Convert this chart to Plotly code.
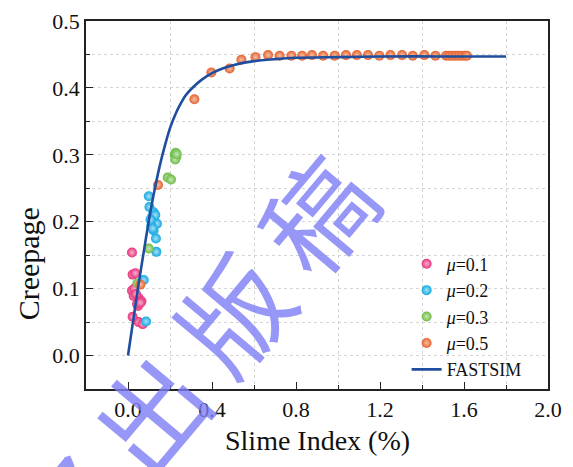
import plotly.graph_objects as go

# ---- data ----
mu01_x = [0.019, 0.022, 0.035, 0.019, 0.030, 0.027, 0.051, 0.064, 0.048, 0.043, 0.059, 0.022, 0.051, 0.070, 0.038]
mu01_y = [0.154, 0.121, 0.123, 0.097, 0.100, 0.089, 0.086, 0.081, 0.074, 0.077, 0.079, 0.058, 0.050, 0.047, 0.092]

mu02_x = [0.099, 0.102, 0.122, 0.114, 0.127, 0.138, 0.111, 0.122, 0.118, 0.133, 0.130, 0.135, 0.075, 0.086, 0.107]
mu02_y = [0.238, 0.222, 0.214, 0.207, 0.200, 0.197, 0.194, 0.187, 0.190, 0.175, 0.210, 0.155, 0.113, 0.051, 0.203]

mu03_x = [0.222, 0.227, 0.230, 0.225, 0.232, 0.189, 0.205, 0.099, 0.045]
mu03_y = [0.300, 0.303, 0.297, 0.293, 0.301, 0.266, 0.263, 0.160, 0.108]

mu05_x = [0.059, 0.143, 0.316, 0.397, 0.484, 0.540, 0.607, 0.667, 0.722, 0.778, 0.829, 0.876,
          0.929, 0.984, 1.038, 1.090, 1.143, 1.197, 1.250, 1.305, 1.356, 1.411, 1.464,
          1.515, 1.530, 1.545, 1.560, 1.575, 1.590, 1.605, 1.614]
mu05_y = [0.106, 0.255, 0.383, 0.423, 0.429, 0.442, 0.446, 0.449, 0.448, 0.448, 0.448, 0.449,
          0.448, 0.448, 0.449, 0.449, 0.449, 0.448, 0.449, 0.449, 0.448, 0.449, 0.448,
          0.448, 0.448, 0.448, 0.448, 0.448, 0.448, 0.448, 0.448]

fast_x = [0.0, 0.025, 0.05, 0.075, 0.1, 0.125, 0.15, 0.175, 0.2, 0.225, 0.25, 0.275, 0.3,
          0.35, 0.4, 0.45, 0.5, 0.6, 0.7, 0.8, 1.0, 1.2, 1.5, 1.8]
fast_y = [0.0, 0.053, 0.106, 0.155, 0.203, 0.245, 0.282, 0.313, 0.340, 0.360, 0.376, 0.389, 0.398,
          0.412, 0.422, 0.429, 0.434, 0.440, 0.443, 0.445, 0.446, 0.447, 0.447, 0.447]

series = [
    ("<i>μ</i>=0.1", mu01_x, mu01_y, "#E8327C", "#F7B3CF"),
    ("<i>μ</i>=0.2", mu02_x, mu02_y, "#12A9E2", "#A8E0F5"),
    ("<i>μ</i>=0.3", mu03_x, mu03_y, "#6DBA45", "#C7E8B5"),
    ("<i>μ</i>=0.5", mu05_x, mu05_y, "#E5622C", "#F6C0A8"),
]

FONT = "Liberation Serif, Times New Roman, serif"

fig = go.Figure()
for name, xs, ys, col, hi in series:
    fig.add_trace(go.Scatter(
        x=xs, y=ys, mode="markers", name=name,
        marker=dict(size=10, color=col, line=dict(width=0),
                    gradient=dict(type="radial", color=hi)),
    ))

fig.add_trace(go.Scatter(
    x=fast_x, y=fast_y, mode="lines", name="FASTSIM",
    line=dict(color="#1F4E9E", width=2.6, shape="spline", smoothing=0.8),
))

axis_common = dict(
    showline=True, linecolor="#222", linewidth=1.6, mirror=True,
    ticks="inside", tickcolor="#222", tickwidth=1.3, ticklen=7,
    tickfont=dict(family=FONT, size=22, color="#111"),
    zeroline=False, automargin=False, ticklabeloverflow="allow",
)

fig.update_xaxes(
    **axis_common,
    range=[-0.2, 2.0], tick0=0, dtick=0.4, tickformat=".1f",
    showgrid=False,
    minor=dict(dtick=0.2, tick0=0, ticks="inside", ticklen=4, tickcolor="#222",
               showgrid=True, gridcolor="#D4D4D4", griddash="dot", gridwidth=1),
)
fig.update_yaxes(
    **axis_common,
    range=[-0.05, 0.5], tick0=0, dtick=0.1, tickformat=".1f",
    showgrid=True, gridcolor="#D4D4D4", griddash="dot", gridwidth=1,
    minor=dict(dtick=0.05, tick0=0, ticks="inside", ticklen=4, tickcolor="#222",
               showgrid=True, gridcolor="#D4D4D4", griddash="dot", gridwidth=1),
)

# axis titles
fig.add_annotation(
    text="Slime Index (%)", xref="paper", yref="paper", x=0.5, y=-0.141,
    xanchor="center", yanchor="middle", showarrow=False,
    font=dict(family=FONT, size=28, color="#111"),
)
fig.add_annotation(
    text="Creepage", xref="paper", yref="paper", x=-0.1245, y=0.34,
    xanchor="center", yanchor="middle", showarrow=False, textangle=-90,
    font=dict(family=FONT, size=30, color="#111"),
)

# watermark
fig.add_annotation(
    text="络\u2009出\u2009版\u2009稿", xref="paper", yref="paper", x=0.224, y=0.075,
    xanchor="center", yanchor="middle", showarrow=False, textangle=-50,
    font=dict(family="Noto Sans CJK SC", size=108, color="rgba(125,125,245,0.8)"),
)

fig.update_layout(
    width=565, height=459,
    margin=dict(l=78, r=25, t=13, b=78),
    paper_bgcolor="white", plot_bgcolor="white",
    font=dict(family=FONT, color="#111"),
    showlegend=True,
    legend=dict(x=0.694, y=0.004, xanchor="left", yanchor="bottom",
                bgcolor="rgba(0,0,0,0)", font=dict(family=FONT, size=18, color="#111"),
                itemwidth=30, tracegroupgap=0),
)

fig.write_html("out.html")
